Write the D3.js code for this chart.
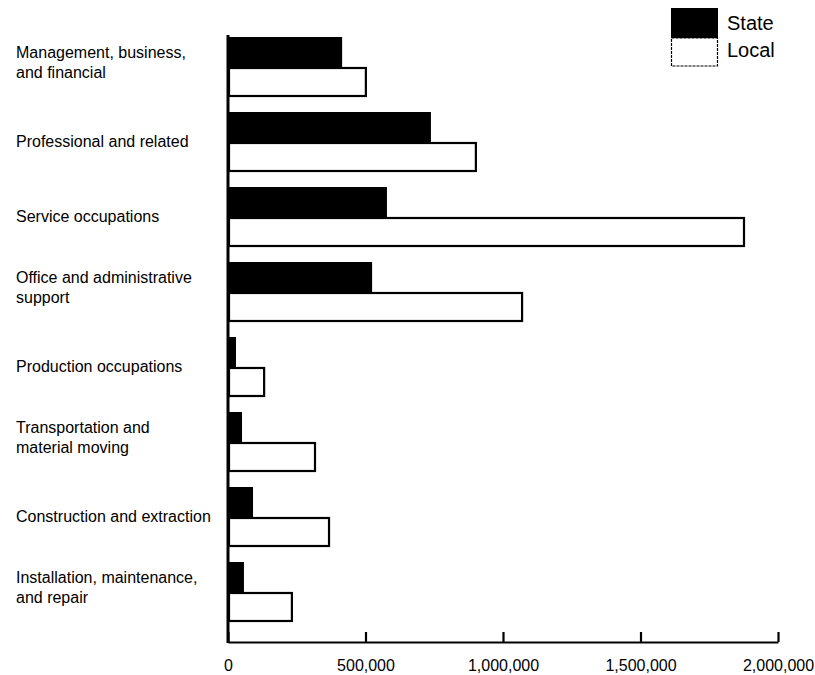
<!DOCTYPE html>
<html>
<head>
<meta charset="utf-8">
<script src="https://cdn.jsdelivr.net/npm/d3@7/dist/d3.min.js"></script>
<style>
  html, body { margin: 0; padding: 0; background: #fff; }
  svg { display: block; font-family: "Liberation Sans", Arial, sans-serif; }
</style>
</head>
<body>
<svg id="chart" width="815" height="675"></svg>
<script>
// Data
const categories = [
  "Management, business, and financial",
  "Professional and related",
  "Service occupations",
  "Office and administrative support",
  "Production occupations",
  "Transportation and material moving",
  "Construction and extraction",
  "Installation, maintenance, and repair"
];
const categoryLines = [
  ["Management, business,", "and financial"],
  ["Professional and related"],
  ["Service occupations"],
  ["Office and administrative", "support"],
  ["Production occupations"],
  ["Transportation and", "material moving"],
  ["Construction and extraction"],
  ["Installation, maintenance,", "and repair"]
];
const stateValues = [415000, 738000, 578000, 524000, 29000, 51000, 91000, 58000];
const localValues = [505000, 905000, 1880000, 1073000, 135000, 320000, 371000, 236000];
const seriesNames = ["State", "Local"];
const tickValues = [0, 500000, 1000000, 1500000, 2000000];

const svg = d3.select("#chart");

const x = d3.scaleLinear().domain([0, 2000000]).range([228, 778]);
const y = d3.scaleBand().domain(categories).range([29.5, 629.5])
  .paddingInner(0.2).paddingOuter(0.1);
const sub = d3.scaleBand().domain(seriesNames).range([0, y.bandwidth()]);

const rows = categories.map((c, i) => ({
  cat: c, lines: categoryLines[i], state: stateValues[i], local: localValues[i]
}));

// Bars
const g = svg.append("g");
g.selectAll("rect.state").data(rows).join("rect")
  .attr("class", "state")
  .attr("x", x(0))
  .attr("y", d => y(d.cat) + sub("State"))
  .attr("width", d => x(d.state) - x(0))
  .attr("height", sub.bandwidth())
  .attr("fill", "#000");

g.selectAll("rect.local").data(rows).join("rect")
  .attr("class", "local")
  .attr("x", x(0) + 1)
  .attr("y", d => y(d.cat) + sub("Local") + 1)
  .attr("width", d => x(d.local) - x(0) - 2)
  .attr("height", sub.bandwidth() - 2)
  .attr("fill", "#fff")
  .attr("stroke", "#000")
  .attr("stroke-width", 2.2);

// Category labels
const labels = svg.append("g").attr("font-size", 16).attr("fill", "#000");
rows.forEach(d => {
  const cy = y(d.cat) + y.bandwidth() / 2;
  const t = labels.append("text").attr("x", 16);
  if (d.lines.length === 1) {
    t.append("tspan").attr("x", 16).attr("y", cy + 5).text(d.lines[0]);
  } else {
    t.append("tspan").attr("x", 16).attr("y", cy - 9).text(d.lines[0]);
    t.append("tspan").attr("x", 16).attr("y", cy + 11).text(d.lines[1]);
  }
});

// X axis
const axisY = 642;
const xAxis = d3.axisBottom(x)
  .tickValues(tickValues)
  .tickSize(-10)
  .tickSizeOuter(0)
  .tickPadding(18)
  .tickFormat(d3.format(","));
const ax = svg.append("g").attr("transform", `translate(0,${axisY})`).call(xAxis);
ax.select(".domain").attr("stroke", "#000").attr("stroke-width", 2.2);
ax.selectAll(".tick line").attr("stroke", "#000").attr("stroke-width", 2.2);
ax.selectAll(".tick text").attr("font-size", 16).attr("fill", "#000")
  .attr("font-family", "Liberation Sans, Arial, sans-serif");

// Y axis line
svg.append("line")
  .attr("x1", x(0)).attr("x2", x(0))
  .attr("y1", 35).attr("y2", axisY + 1)
  .attr("stroke", "#000").attr("stroke-width", 3);

// Legend
const legend = svg.append("g");
const lgX = 671, lgW = 47;
legend.append("rect").attr("x", lgX).attr("y", 8).attr("width", lgW).attr("height", 30)
  .attr("fill", "#000");
legend.append("rect").attr("x", lgX + 0.5).attr("y", 38).attr("width", lgW - 1).attr("height", 28)
  .attr("fill", "#fff").attr("stroke", "#000").attr("stroke-width", 1.2)
  .attr("stroke-dasharray", "3,1");
legend.selectAll("text").data(seriesNames).join("text")
  .attr("x", 727)
  .attr("y", (d, i) => 30 + i * 27)
  .attr("font-size", 20)
  .attr("fill", "#000")
  .text(d => d);
</script>
</body>
</html>
